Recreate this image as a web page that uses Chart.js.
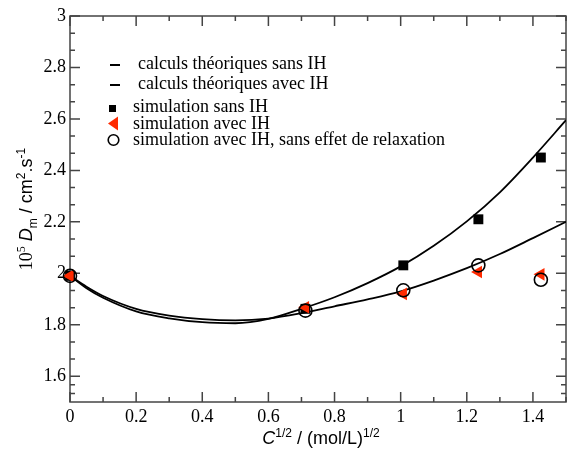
<!DOCTYPE html>
<html>
<head>
<meta charset="utf-8">
<script src="https://cdn.jsdelivr.net/npm/chart.js@4.4.1/dist/chart.umd.min.js"></script>
<style>
  html, body { margin: 0; padding: 0; background: #fff; }
  #wrap { width: 567px; height: 450px; }
</style>
</head>
<body>
<div id="wrap"><canvas id="myChart" width="567" height="450"></canvas></div>
<script>
// theoretical curves
var curveX = [0, 0.05, 0.1, 0.2, 0.3, 0.4, 0.5, 0.6, 0.7, 0.8, 0.9, 1.0, 1.1, 1.2, 1.3, 1.4, 1.5];
var calcSansIH = [1.99, 1.942, 1.905, 1.852, 1.825, 1.810, 1.806, 1.823, 1.862, 1.907, 1.962, 2.027, 2.107, 2.202, 2.315, 2.45, 2.595];
var calcAvecIH = [1.99, 1.948, 1.912, 1.862, 1.836, 1.822, 1.817, 1.824, 1.845, 1.872, 1.899, 1.93, 1.972, 2.02, 2.075, 2.137, 2.2];

// simulation points
var simX = [0, 0.712, 1.008, 1.235, 1.424];
var simSansIH = [1.99, 1.862, 2.031, 2.21, 2.45];
var simAvecIH = [1.99, 1.868, 1.92, 2.005, 1.996];
var simAvecIHSansRelax = [1.99, 1.855, 1.934, 2.031, 1.975];

var legendLabels = [
  "calculs théoriques sans IH",
  "calculs théoriques avec IH",
  "simulation sans IH",
  "simulation avec IH",
  "simulation avec IH, sans effet de relaxation"
];

var xTicks = [0, 0.2, 0.4, 0.6, 0.8, 1, 1.2, 1.4];
var xMinor = [0.1, 0.3, 0.5, 0.7, 0.9, 1.1, 1.3, 1.5];
var yTicks = [1.6, 1.8, 2, 2.2, 2.4, 2.6, 2.8, 3];
var yMinor = [1.5333, 1.5667, 1.6667, 1.7333, 1.8667, 1.9333, 2.0667, 2.1333, 2.2667, 2.3333,
              2.4667, 2.5333, 2.6667, 2.7333, 2.8667, 2.9333];

var RED = "#ff2a00";
var AXIS = "#444";
var serif = "'Liberation Serif', 'Times New Roman', serif";
var sans = "'Liberation Sans', Arial, sans-serif";

function pts(xs, ys) {
  return xs.map(function (x, i) { return { x: x, y: ys[i] }; });
}

// draws a list of text pieces (with super/subscripts) centred on x
function richText(ctx, parts, x, y) {
  var total = 0;
  parts.forEach(function (p) { ctx.font = p.font; total += ctx.measureText(p.t).width; });
  var cx = x - total / 2;
  ctx.textAlign = "left";
  ctx.textBaseline = "alphabetic";
  parts.forEach(function (p) {
    ctx.font = p.font;
    ctx.fillText(p.t, cx, y + (p.dy || 0));
    cx += ctx.measureText(p.t).width;
  });
}

var framePlugin = {
  id: "frame",
  beforeDatasetsDraw: function (chart) {
    var ctx = chart.ctx, a = chart.chartArea;
    var xs = chart.scales.x, ys = chart.scales.y;
    ctx.save();
    ctx.strokeStyle = AXIS;
    ctx.lineWidth = 1.5;
    ctx.strokeRect(a.left, a.top, a.right - a.left, a.bottom - a.top);
    ctx.beginPath();
    function xt(v, len) {
      var px = xs.getPixelForValue(v);
      ctx.moveTo(px, a.bottom); ctx.lineTo(px, a.bottom - len);
      ctx.moveTo(px, a.top); ctx.lineTo(px, a.top + len);
    }
    function yt(v, len) {
      var py = ys.getPixelForValue(v);
      ctx.moveTo(a.left, py); ctx.lineTo(a.left + len, py);
      ctx.moveTo(a.right, py); ctx.lineTo(a.right - len, py);
    }
    xTicks.forEach(function (v) { xt(v, 10); });
    xMinor.forEach(function (v) { xt(v, 5); });
    yTicks.forEach(function (v) { yt(v, 10); });
    yMinor.forEach(function (v) { yt(v, 5); });
    ctx.stroke();
    ctx.restore();
  },
  afterDraw: function (chart) {
    var ctx = chart.ctx, a = chart.chartArea;
    ctx.save();
    ctx.fillStyle = "#000";

    // x axis title
    richText(ctx, [
      { t: "C", font: "italic 18px " + sans },
      { t: "1/2", font: "12px " + sans, dy: -7 },
      { t: " / (mol/L)", font: "18px " + sans },
      { t: "1/2", font: "12px " + sans, dy: -7 }
    ], (a.left + a.right) / 2 + 3, 444);

    // y axis title
    ctx.save();
    ctx.translate(32, (a.top + a.bottom) / 2);
    ctx.rotate(-Math.PI / 2);
    richText(ctx, [
      { t: "10", font: "18px " + serif },
      { t: "5", font: "12px " + serif, dy: -7 },
      { t: " ", font: "18px " + sans },
      { t: "D", font: "italic 18px " + sans },
      { t: "m", font: "12px " + sans, dy: 5 },
      { t: " / cm", font: "18px " + sans },
      { t: "2", font: "12px " + sans, dy: -7 },
      { t: ".s", font: "18px " + sans },
      { t: "-1", font: "12px " + sans, dy: -7 }
    ], 0, 0);
    ctx.restore();

    // legend
    ctx.font = "18px " + serif;
    ctx.textAlign = "left";
    ctx.textBaseline = "alphabetic";
    var base = [68.5, 88.5, 112, 128.5, 145];
    var tx = [138, 138, 133, 133, 133];
    legendLabels.forEach(function (s, i) { ctx.fillText(s, tx[i], base[i]); });

    ctx.strokeStyle = "#000";
    ctx.lineWidth = 2;
    ctx.beginPath();
    ctx.moveTo(110, 65); ctx.lineTo(120, 65);
    ctx.moveTo(110, 85); ctx.lineTo(120, 85);
    ctx.stroke();

    ctx.fillRect(109, 105, 7, 7);

    ctx.fillStyle = RED;
    ctx.beginPath();
    ctx.moveTo(108, 123.5); ctx.lineTo(118, 116.5); ctx.lineTo(118, 130.5);
    ctx.closePath();
    ctx.fill();

    ctx.lineWidth = 1.6;
    ctx.beginPath();
    ctx.arc(113.5, 140, 5.3, 0, Math.PI * 2);
    ctx.stroke();
    ctx.restore();
  }
};

var tickFont = { family: serif, size: 18 };

new Chart("myChart", {
  type: "scatter",
  data: {
    datasets: [
      {
        label: legendLabels[4],
        data: pts(simX, simAvecIHSansRelax),
        pointStyle: "circle",
        pointRadius: 6.5,
        borderColor: "#000",
        borderWidth: 1.6,
        backgroundColor: "rgba(0,0,0,0)",
        clip: false,
        order: 0
      },
      {
        label: legendLabels[3],
        data: pts(simX, simAvecIH),
        pointStyle: "triangle",
        rotation: -90,
        pointRadius: 7.3,
        borderWidth: 0,
        borderColor: RED,
        backgroundColor: RED,
        clip: false,
        order: 1
      },
      {
        label: legendLabels[2],
        data: pts(simX, simSansIH),
        pointStyle: "rect",
        pointRadius: 7,
        borderWidth: 0,
        backgroundColor: "#000",
        clip: false,
        order: 2
      },
      {
        label: legendLabels[0],
        type: "line",
        data: pts(curveX, calcSansIH),
        borderColor: "#000",
        borderWidth: 1.8,
        pointRadius: 0,
        fill: false,
        cubicInterpolationMode: "monotone",
        order: 3
      },
      {
        label: legendLabels[1],
        type: "line",
        data: pts(curveX, calcAvecIH),
        borderColor: "#000",
        borderWidth: 1.8,
        pointRadius: 0,
        fill: false,
        cubicInterpolationMode: "monotone",
        order: 4
      }
    ]
  },
  options: {
    responsive: false,
    animation: false,
    devicePixelRatio: 1,
    layout: { autoPadding: false, padding: { top: 16, right: 1, left: 0, bottom: 0 } },
    plugins: {
      legend: { display: false },
      tooltip: { enabled: false }
    },
    scales: {
      x: {
        type: "linear",
        min: 0,
        max: 1.5,
        grid: { display: false, drawTicks: false },
        border: { display: false },
        ticks: {
          font: tickFont,
          color: "#000",
          padding: 4,
          maxRotation: 0,
          autoSkip: false,
          callback: function (v) { return String(v); }
        },
        afterBuildTicks: function (s) { s.ticks = xTicks.map(function (v) { return { value: v }; }); },
        afterFit: function (s) { s.height = 48; s.paddingLeft = 0; s.paddingRight = 0; }
      },
      y: {
        type: "linear",
        min: 1.5,
        max: 3,
        grid: { display: false, drawTicks: false },
        border: { display: false },
        ticks: {
          font: tickFont,
          color: "#000",
          padding: 4,
          autoSkip: false,
          callback: function (v) { return String(v); }
        },
        afterBuildTicks: function (s) { s.ticks = yTicks.map(function (v) { return { value: v }; }); },
        afterFit: function (s) { s.width = 70; s.paddingTop = 0; s.paddingBottom = 0; }
      }
    }
  },
  plugins: [framePlugin]
});
</script>
</body>
</html>
